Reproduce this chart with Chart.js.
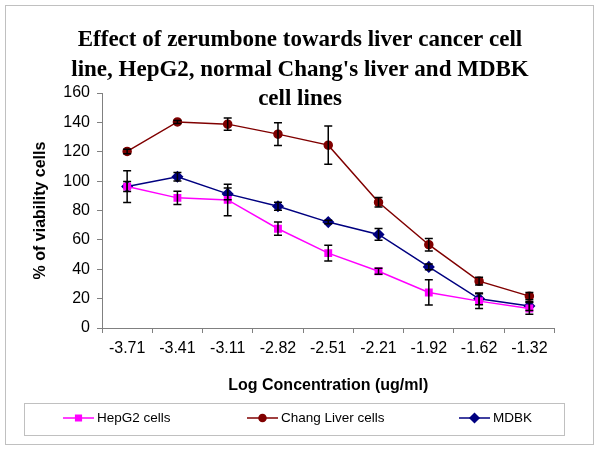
<!DOCTYPE html>
<html>
<head>
<meta charset="utf-8">
<script src="https://cdn.jsdelivr.net/npm/chart.js@4/dist/chart.umd.min.js"></script>
<style>
  html, body { margin: 0; padding: 0; background: #fff; }
  #chart { display: block; }
</style>
</head>
<body>
<canvas id="chart" width="600" height="450"></canvas>
<script>
// data
const concLabels = ['-3.71', '-3.41', '-3.11', '-2.82', '-2.51', '-2.21', '-1.92', '-1.62', '-1.32'];
const hepg2 = [96.3, 88.6, 87.2, 67.6, 51, 38.6, 24.2, 18.3, 13.3];
const hepg2Err = [10.8, 4.5, 10.7, 4.5, 5.3, 2, 8.6, 5, 4];
const chang = [120.2, 140.3, 138.8, 132, 124.5, 85.6, 56.7, 31.9, 21.7];
const changErr = [1.5, 1, 4.2, 7.7, 13, 3.3, 4.3, 2.7, 2.5];
const mdbk = [96.3, 103, 91.3, 82.9, 72.1, 63.7, 41.6, 19.9, 14.9];
const mdbkErr = [3.4, 2.9, 4, 2.7, 1.2, 4, 2, 4, 3];
const yTicks = [0, 20, 40, 60, 80, 100, 120, 140, 160];

const titleLines = [
    'Effect of zerumbone towards liver cancer cell',
    "line, HepG2, normal Chang's liver and MDBK",
    'cell lines'
];

// white background, frame, title and legend box
const decor = {
    id: 'decor',
    beforeDraw(chart) {
        const ctx = chart.ctx;
        ctx.save();
        ctx.fillStyle = '#fff';
        ctx.fillRect(0, 0, chart.width, chart.height);
        ctx.strokeStyle = '#c0c0c0';
        ctx.lineWidth = 1;
        ctx.strokeRect(5.5, 5.5, 588, 439);
        ctx.fillStyle = '#000';
        ctx.font = 'bold 23px "Liberation Serif", "Times New Roman", serif';
        ctx.textAlign = 'center';
        ctx.textBaseline = 'alphabetic';
        const baselines = [46, 76, 105];
        titleLines.forEach((t, i) => ctx.fillText(t, 300, baselines[i]));
        ctx.restore();
    },
    afterDraw(chart) {
        const ctx = chart.ctx;
        ctx.save();
        ctx.strokeStyle = '#c0c0c0';
        ctx.lineWidth = 1;
        ctx.strokeRect(24.5, 403.5, 540, 32);
        const starts = [63, 247, 459];
        ctx.font = '13.5px "Liberation Sans", Arial, sans-serif';
        ctx.textBaseline = 'middle';
        ctx.textAlign = 'left';
        chart.data.datasets.forEach((ds, i) => {
            const x = starts[i], y = 418;
            ctx.strokeStyle = ds.borderColor;
            ctx.lineWidth = 1.5;
            ctx.beginPath();
            ctx.moveTo(x, y);
            ctx.lineTo(x + 31, y);
            ctx.stroke();
            ctx.fillStyle = ds.pointBackgroundColor;
            ctx.strokeStyle = ds.borderColor;
            Chart.helpers.drawPoint(ctx, {
                pointStyle: ds.pointStyle,
                radius: ds.pointRadius - 0.5,
                rotation: 0,
                borderWidth: 1
            }, x + 15.5, y);
            ctx.fillStyle = '#000';
            ctx.fillText(ds.label, x + 34, y);
        });
        ctx.restore();
    }
};

// error bars through the y scale
const errorBars = {
    id: 'errorBars',
    afterDatasetsDraw(chart) {
        const ctx = chart.ctx;
        const yScale = chart.scales.y;
        const errs = [hepg2Err, changErr, mdbkErr];
        ctx.save();
        ctx.strokeStyle = '#000';
        ctx.lineWidth = 1.5;
        chart.data.datasets.forEach((ds, i) => {
            const meta = chart.getDatasetMeta(i);
            meta.data.forEach((pt, j) => {
                const v = ds.data[j], e = errs[i][j];
                const yTop = yScale.getPixelForValue(v + e);
                const yBot = yScale.getPixelForValue(v - e);
                const x = pt.x;
                ctx.beginPath();
                ctx.moveTo(x, yTop);
                ctx.lineTo(x, yBot);
                ctx.moveTo(x - 4, yTop);
                ctx.lineTo(x + 4, yTop);
                ctx.moveTo(x - 4, yBot);
                ctx.lineTo(x + 4, yBot);
                ctx.stroke();
            });
        });
        ctx.restore();
    }
};

const axisFont = { family: '"Liberation Sans", Arial, sans-serif', size: 16 };
const titleFont = { family: '"Liberation Sans", Arial, sans-serif', size: 16, weight: 'bold' };

new Chart(document.getElementById('chart'), {
    type: 'line',
    data: {
        labels: concLabels,
        datasets: [
            {
                label: 'HepG2 cells',
                data: hepg2,
                borderColor: '#ff00ff',
                backgroundColor: '#ff00ff',
                pointBackgroundColor: '#ff00ff',
                pointStyle: 'rect',
                pointRadius: 4.5,
                borderWidth: 1.5
            },
            {
                label: 'Chang Liver cells',
                data: chang,
                borderColor: '#800000',
                backgroundColor: '#800000',
                pointBackgroundColor: '#800000',
                pointStyle: 'circle',
                pointRadius: 4,
                borderWidth: 1.5
            },
            {
                label: 'MDBK',
                data: mdbk,
                borderColor: '#000080',
                backgroundColor: '#000080',
                pointBackgroundColor: '#000080',
                pointStyle: 'rectRot',
                pointRadius: 5,
                borderWidth: 1.5
            }
        ]
    },
    options: {
        responsive: false,
        animation: false,
        devicePixelRatio: 1,
        layout: { padding: { top: 93, right: 45.5, bottom: 50, left: 0 } },
        plugins: {
            legend: { display: false },
            tooltip: { enabled: false }
        },
        elements: { line: { tension: 0 } },
        scales: {
            x: {
                offset: true,
                grid: { display: true, offset: true, drawOnChartArea: false, drawTicks: true, tickLength: 5, color: '#808080' },
                border: { color: '#808080', width: 1 },
                ticks: { color: '#000', font: axisFont, padding: 6, maxRotation: 0 },
                title: { display: true, text: 'Log Concentration (ug/ml)', color: '#000', font: titleFont, padding: { top: 0, bottom: 4.4 } },
                afterFit(scale) { scale.height = 72; }
            },
            y: {
                min: 0,
                max: 160,
                afterBuildTicks(scale) { scale.ticks = yTicks.map(v => ({ value: v })); },
                grid: { display: true, drawOnChartArea: false, drawTicks: true, tickLength: 5, color: '#808080' },
                border: { color: '#808080', width: 1 },
                ticks: { color: '#000', font: axisFont, padding: 7 },
                title: { display: true, text: '% of viability cells', color: '#000', font: titleFont, padding: { top: 31.4, bottom: 0 } },
                afterFit(scale) { scale.width = 102; }
            }
        }
    },
    plugins: [decor, errorBars]
});
</script>
</body>
</html>
